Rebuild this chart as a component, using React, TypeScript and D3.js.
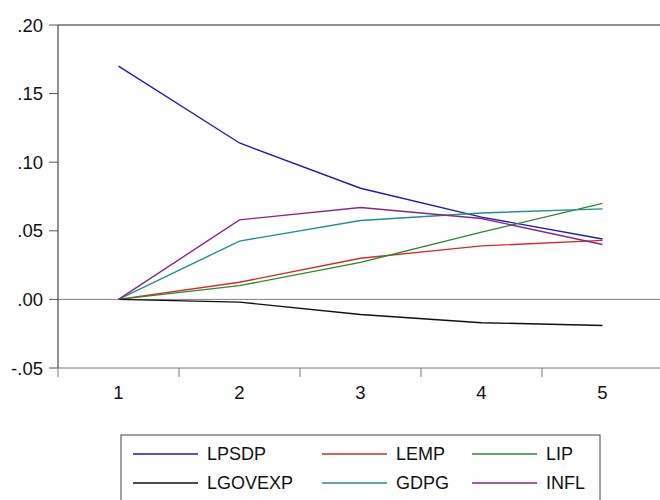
import React, { FC } from 'react'
import * as d3 from 'd3'

const periods = [1, 2, 3, 4, 5]
const yTicks = [-0.05, 0, 0.05, 0.1, 0.15, 0.2]

const LPSDP = [0.17, 0.114, 0.081, 0.06, 0.044]
const LEMP = [0, 0.0125, 0.03, 0.039, 0.043]
const LIP = [0, 0.01, 0.027, 0.049, 0.07]
const LGOVEXP = [0, -0.002, -0.011, -0.017, -0.019]
const GDPG = [0, 0.0425, 0.0575, 0.063, 0.066]
const INFL = [0, 0.058, 0.067, 0.059, 0.04]

const seriesNames = ['LPSDP', 'LEMP', 'LIP', 'LGOVEXP', 'GDPG', 'INFL']
const seriesValues = [LPSDP, LEMP, LIP, LGOVEXP, GDPG, INFL]
const seriesColors = ['#1c1cb4', '#d42a2a', '#2a8a2a', '#101010', '#1f8f8f', '#87268a']

const W = 660
const H = 500
const left = 58
const right = 663
const top = 25
const bottom = 368

const App: FC = () => {
	const x = d3.scaleLinear().domain([0.5, 5.5]).range([left, right])
	const y = d3.scaleLinear().domain([-0.05, 0.2]).range([bottom, top])
	const line = d3
		.line<number>()
		.x((_, i) => x(periods[i]))
		.y((d) => y(d))

	// EViews style: drop the leading zero
	const fmt = (v: number) => v.toFixed(2).replace(/^(-?)0\./, '$1.')

	const bandEdges = d3.range(1.5, 5, 1)

	return (
		<svg
			width={W}
			height={H}
			style={{ position: 'absolute', left: 0, top: 0, background: '#fff' }}
			fontFamily="'Liberation Sans', Arial, sans-serif"
		>
			{/* zero line */}
			<line x1={left} x2={right} y1={y(0)} y2={y(0)} stroke="#808080" strokeWidth={1} />

			{/* series */}
			{seriesValues.map((vals, i) => (
				<path
					key={seriesNames[i]}
					d={line(vals) || ''}
					fill="none"
					stroke={seriesColors[i]}
					strokeWidth={1.4}
				/>
			))}

			{/* frame */}
			<line x1={left} x2={right} y1={top} y2={top} stroke="#222" strokeWidth={1} />
			<line x1={left} x2={left} y1={top} y2={bottom} stroke="#222" strokeWidth={1} />
			<line x1={left} x2={right} y1={bottom} y2={bottom} stroke="#777" strokeWidth={1} />

			{/* y axis */}
			{yTicks.map((t) => (
				<g key={t}>
					<line x1={left - 9} x2={left} y1={y(t)} y2={y(t)} stroke="#555" />
					<text x={left - 15} y={y(t)} dy="0.36em" textAnchor="end" fontSize={18.5} fill="#111">
						{fmt(t)}
					</text>
				</g>
			))}

			{/* x axis */}
			{[0.5, ...bandEdges].map((e) => (
				<line key={e} x1={x(e)} x2={x(e)} y1={bottom} y2={bottom + 9} stroke="#777" />
			))}
			{periods.map((p) => (
				<text key={p} x={x(p)} y={bottom + 31} textAnchor="middle" fontSize={18.5} fill="#111">
					{p}
				</text>
			))}

			{/* legend */}
			<rect x={121} y={435} width={479} height={72} fill="#fff" stroke="#444" />
			{seriesNames.map((n, i) => {
				const col = i % 3
				const row = Math.floor(i / 3)
				const lx = [133, 322, 472][col]
				const ly = [454, 483][row]
				return (
					<g key={n}>
						<line x1={lx} x2={lx + 65} y1={ly} y2={ly} stroke={seriesColors[i]} strokeWidth={1.4} />
						<text x={lx + 74} y={ly} dy="0.36em" fontSize={18} fill="#111">
							{n}
						</text>
					</g>
				)
			})}
		</svg>
	)
}

export default App
